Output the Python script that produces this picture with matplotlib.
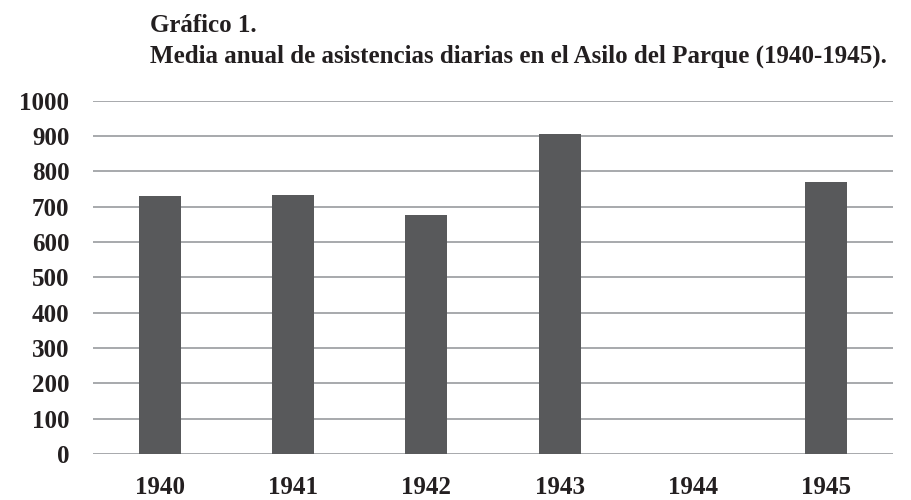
import matplotlib
matplotlib.use("Agg")
import matplotlib.pyplot as plt
import numpy as np

years = ["1940", "1941", "1942", "1943", "1944", "1945"]
values = [730, 733, 676, 906, 0, 770]
yticks = [0, 100, 200, 300, 400, 500, 600, 700, 800, 900, 1000]
title_line1 = "Gráfico 1."
title_line2 = "Media anual de asistencias diarias en el Asilo del Parque (1940-1945)."

text_color = "#231f20"
bar_color = "#58595b"
grid_color = "#a7a9ac"
font = "Liberation Serif"

fig = plt.figure(figsize=(9.11, 5.0), dpi=100)
ax = fig.add_axes([93/911, 1-454/500, 800/911, (454-100.7)/500])

x = np.arange(len(years))
ax.bar(x, values, width=0.315, color=bar_color, zorder=3)
ax.set_xlim(-0.5, len(years) - 0.5)
ax.set_ylim(0, 1000)
ax.set_yticks(yticks)
ax.set_yticklabels([str(t) for t in yticks])
ax.set_xticks(x)
ax.set_xticklabels(years)
for lbl in ax.get_yticklabels() + ax.get_xticklabels():
    lbl.set_fontfamily(font)
    lbl.set_fontweight("bold")
    lbl.set_fontsize(18)
    lbl.set_color(text_color)
ax.tick_params(axis="y", length=0, pad=17)
ax.tick_params(axis="x", length=0, pad=16)
ax.grid(axis="y", color=grid_color, linewidth=1.4, zorder=0)
ax.set_axisbelow(True)
for s in ax.spines.values():
    s.set_visible(False)

fig.text(150/911, 1-32/500, title_line1, fontfamily=font, fontweight="bold",
         fontsize=18, color=text_color, ha="left", va="baseline")
fig.text(150/911, 1-63/500, title_line2, fontfamily=font, fontweight="bold",
         fontsize=18, color=text_color, ha="left", va="baseline")

fig.savefig("out.png", dpi=100)
